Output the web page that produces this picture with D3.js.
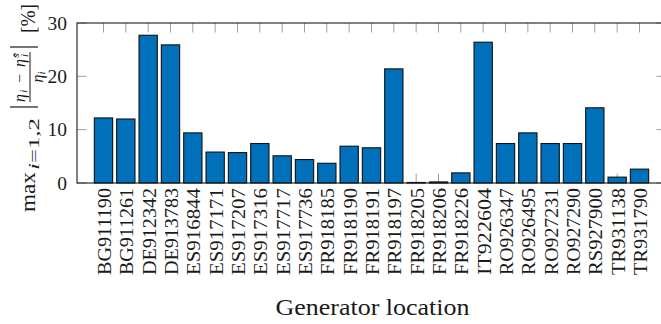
<!DOCTYPE html>
<html>
<head>
<meta charset="utf-8">
<script src="https://cdn.jsdelivr.net/npm/d3@7"></script>
<style>
  html, body { margin: 0; padding: 0; background: #fff; }
  svg { display: block; }
</style>
</head>
<body>
<svg id="chart" width="661" height="324"></svg>
<script>
const categories = ["BG911190","BG911261","DE912342","DE913783","ES916844","ES917171","ES917207","ES917316","ES917717","ES917736","FR918185","FR918190","FR918191","FR918197","FR918205","FR918206","FR918226","IT922604","RO926347","RO926495","RO927231","RO927290","RS927900","TR931138","TR931790"];
const values = [12.2, 12.0, 27.7, 25.9, 9.4, 5.8, 5.7, 7.4, 5.1, 4.4, 3.7, 6.9, 6.6, 21.4, 0.1, 0.2, 1.9, 26.4, 7.4, 9.4, 7.4, 7.4, 14.1, 1.1, 2.6];
const yTicks = [0, 10, 20, 30];
const xLabel = "Generator location";

(function () {
const FONT = "'Liberation Serif', 'Times New Roman', serif";
const INK = "#1a1a1a";
const svg = d3.select("#chart");
const pLeft = 77, pRight = 666, pTop = 23, pBottom = 183;
const firstC = 103.5, lastC = 639.5;

const x = d3.scalePoint().domain(categories).range([firstC, lastC]);
const y = d3.scaleLinear().domain([0, 30]).range([pBottom, pTop]);
const barW = 18.3;
const tickLen = 9.5;
const tickColor = "#a0a0a0";

svg.append("g").selectAll("line").data(categories).join("line")
  .attr("x1", d => x(d)).attr("x2", d => x(d))
  .attr("y1", pBottom).attr("y2", pBottom - tickLen)
  .attr("stroke", tickColor).attr("stroke-width", 1);
svg.append("g").selectAll("line").data(categories).join("line")
  .attr("x1", d => x(d)).attr("x2", d => x(d))
  .attr("y1", pTop).attr("y2", pTop + tickLen)
  .attr("stroke", tickColor).attr("stroke-width", 1);
svg.append("g").selectAll("line").data(yTicks).join("line")
  .attr("x1", pLeft).attr("x2", pLeft + tickLen)
  .attr("y1", d => y(d)).attr("y2", d => y(d))
  .attr("stroke", tickColor).attr("stroke-width", 1);
svg.append("g").selectAll("line").data(yTicks).join("line")
  .attr("x1", pRight).attr("x2", pRight - tickLen)
  .attr("y1", d => y(d)).attr("y2", d => y(d))
  .attr("stroke", tickColor).attr("stroke-width", 1);

svg.append("g").selectAll("rect").data(values).join("rect")
  .attr("x", (d, i) => x(categories[i]) - barW / 2)
  .attr("width", barW)
  .attr("y", d => y(d))
  .attr("height", d => y(0) - y(d))
  .attr("fill", "#0070bb")
  .attr("stroke", "#111")
  .attr("stroke-width", 1.1);

svg.append("rect")
  .attr("x", pLeft).attr("y", pTop)
  .attr("width", pRight - pLeft).attr("height", pBottom - pTop)
  .attr("fill", "none").attr("stroke", INK).attr("stroke-width", 1.1);

svg.append("g").selectAll("text").data(yTicks).join("text")
  .attr("x", 67).attr("y", d => y(d))
  .attr("dy", "0.34em")
  .attr("text-anchor", "end")
  .attr("font-family", FONT).attr("fill", INK)
  .attr("font-size", 19.5)
  .text(d => d);

svg.append("g").selectAll("text").data(categories).join("text")
  .attr("transform", d => `translate(${x(d) + 1},188) rotate(-90)`)
  .attr("dy", "0.34em")
  .attr("text-anchor", "end")
  .attr("textLength", 87).attr("lengthAdjust", "spacingAndGlyphs")
  .attr("font-family", FONT).attr("fill", INK)
  .attr("font-size", 19.5)
  .text(d => d);

svg.append("text")
  .attr("x", (pLeft + pRight) / 2 + 1).attr("y", 315)
  .attr("text-anchor", "middle")
  .attr("textLength", 194).attr("lengthAdjust", "spacingAndGlyphs")
  .attr("font-family", FONT).attr("fill", INK)
  .attr("font-size", 23)
  .text(xLabel);

const gl = svg.append("g").attr("transform", "translate(35,0) rotate(-90)")
  .attr("font-family", FONT).attr("fill", INK);
gl.append("text").attr("x", -212).attr("y", 0)
  .attr("textLength", 40).attr("lengthAdjust", "spacingAndGlyphs")
  .attr("font-size", 22).text("max");
const sub = gl.append("text").attr("x", -170).attr("y", 4).attr("font-size", 14)
  .attr("textLength", 52).attr("lengthAdjust", "spacingAndGlyphs");
sub.append("tspan").attr("font-style", "italic").text("i");
sub.append("tspan").text("=1,2");
gl.append("line").attr("x1", -107).attr("x2", -107).attr("y1", -25).attr("y2", 3)
  .attr("stroke", INK).attr("stroke-width", 1.2);
gl.append("line").attr("x1", -47).attr("x2", -47).attr("y1", -25).attr("y2", 3)
  .attr("stroke", INK).attr("stroke-width", 1.2);
gl.append("line").attr("x1", -102).attr("x2", -52).attr("y1", -5).attr("y2", -5)
  .attr("stroke", INK).attr("stroke-width", 1);
const num = gl.append("text").attr("x", -102).attr("y", -10)
  .attr("textLength", 50).attr("lengthAdjust", "spacing")
  .attr("font-size", 16).attr("font-style", "italic");
num.append("tspan").text("η");
num.append("tspan").attr("dy", 2).attr("font-size", 11).text("i");
num.append("tspan").attr("dy", -2).attr("font-style", "normal").text(" − ");
num.append("tspan").text("η\u0302");
num.append("tspan").attr("dy", -6).attr("font-size", 11).text("s");
num.append("tspan").attr("dx", -5).attr("dy", 9).attr("font-size", 11).text("i");
const den = gl.append("text").attr("x", -77).attr("y", 8).attr("text-anchor", "middle")
  .attr("font-size", 16).attr("font-style", "italic");
den.append("tspan").text("η");
den.append("tspan").attr("dy", 2).attr("font-size", 11).text("i");
gl.append("text").attr("x", -33).attr("y", 0)
  .attr("textLength", 29).attr("lengthAdjust", "spacingAndGlyphs")
  .attr("font-size", 22).text("[%]");
})();
</script>
</body>
</html>
